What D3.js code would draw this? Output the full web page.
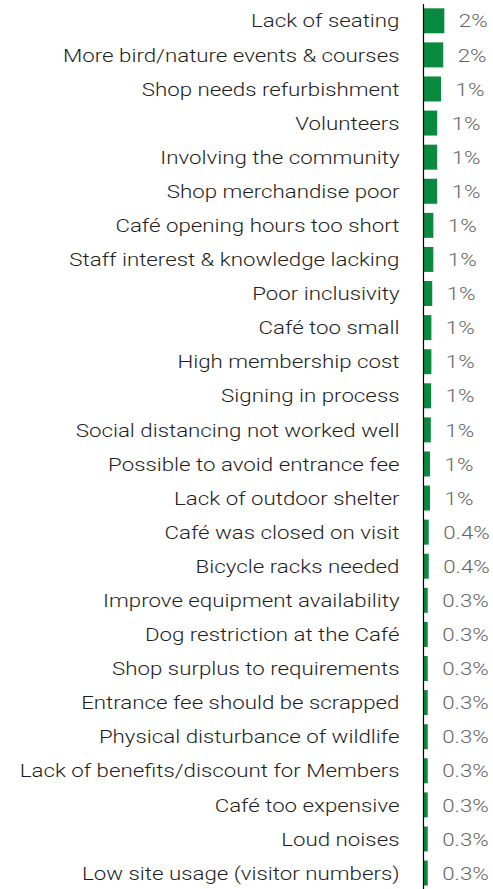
<!DOCTYPE html>
<html>
<head>
<meta charset="utf-8">
<script src="https://cdn.jsdelivr.net/npm/d3@7"></script>
<style>
  html, body { margin: 0; padding: 0; background: #fff; }
  svg { display: block; }
</style>
</head>
<body>
<svg id="chart" width="493" height="889"></svg>
<script>
const categories = [
  "Lack of seating",
  "More bird/nature events & courses",
  "Shop needs refurbishment",
  "Volunteers",
  "Involving the community",
  "Shop merchandise poor",
  "Café opening hours too short",
  "Staff interest & knowledge lacking",
  "Poor inclusivity",
  "Café too small",
  "High membership cost",
  "Signing in process",
  "Social distancing not worked well",
  "Possible to avoid entrance fee",
  "Lack of outdoor shelter",
  "Café was closed on visit",
  "Bicycle racks needed",
  "Improve equipment availability",
  "Dog restriction at the Café",
  "Shop surplus to requirements",
  "Entrance fee should be scrapped",
  "Physical disturbance of wildlife",
  "Lack of benefits/discount for Members",
  "Café too expensive",
  "Loud noises",
  "Low site usage (visitor numbers)"
];
const values = [1.85, 1.75, 1.55, 1.2, 1.2, 1.2, 0.85, 0.85, 0.75, 0.67, 0.67, 0.65, 0.62, 0.55, 0.55,
  0.43, 0.43, 0.34, 0.34, 0.34, 0.34, 0.34, 0.34, 0.34, 0.34, 0.34];
const valueLabels = ["2%", "2%", "1%", "1%", "1%", "1%", "1%", "1%", "1%", "1%", "1%", "1%", "1%", "1%", "1%",
  "0.4%", "0.4%", "0.3%", "0.3%", "0.3%", "0.3%", "0.3%", "0.3%", "0.3%", "0.3%", "0.3%"];

const data = categories.map((c, i) => ({ cat: c, v: values[i], lab: valueLabels[i] }));

const svg = d3.select("#chart");
const axisX = 423.5;
const barX = 424;
const font = "Roboto, 'Liberation Sans', sans-serif";
const sx = 1.168;

const y = d3.scaleBand()
  .domain(categories)
  .range([3.75, 890.1])
  .paddingInner(0.267)
  .paddingOuter(0.1335);

const x = d3.scaleLinear().domain([0, 2]).range([0, 22]);

svg.selectAll("rect.bar")
  .data(data)
  .enter().append("rect")
  .attr("class", "bar")
  .attr("x", barX)
  .attr("y", d => y(d.cat))
  .attr("width", d => x(d.v))
  .attr("height", y.bandwidth())
  .attr("fill", "#0a8a3e");

svg.append("line")
  .attr("x1", axisX).attr("x2", axisX)
  .attr("y1", 4).attr("y2", 889)
  .attr("stroke", "#000")
  .attr("stroke-width", 1.2);

svg.selectAll("text.cat")
  .data(data)
  .enter().append("text")
  .attr("class", "cat")
  .attr("transform", d => `translate(399.5,${y(d.cat) + y.bandwidth() / 2}) scale(${sx},1)`)
  .attr("dy", "0.35em")
  .attr("text-anchor", "end")
  .attr("font-family", font)
  .attr("font-weight", 300)
  .attr("font-size", "19.1px")
  .attr("fill", "#1e1e1e")
  .text(d => d.cat);

svg.selectAll("text.val")
  .data(data)
  .enter().append("text")
  .attr("class", "val")
  .attr("transform", d => `translate(${barX + x(d.v) + 14.5},${y(d.cat) + y.bandwidth() / 2}) scale(${sx},1)`)
  .attr("dy", "0.35em")
  .attr("text-anchor", "start")
  .attr("font-family", font)
  .attr("font-weight", 300)
  .attr("font-size", "19.1px")
  .attr("fill", "#666")
  .text(d => d.lab);
</script>
</body>
</html>
